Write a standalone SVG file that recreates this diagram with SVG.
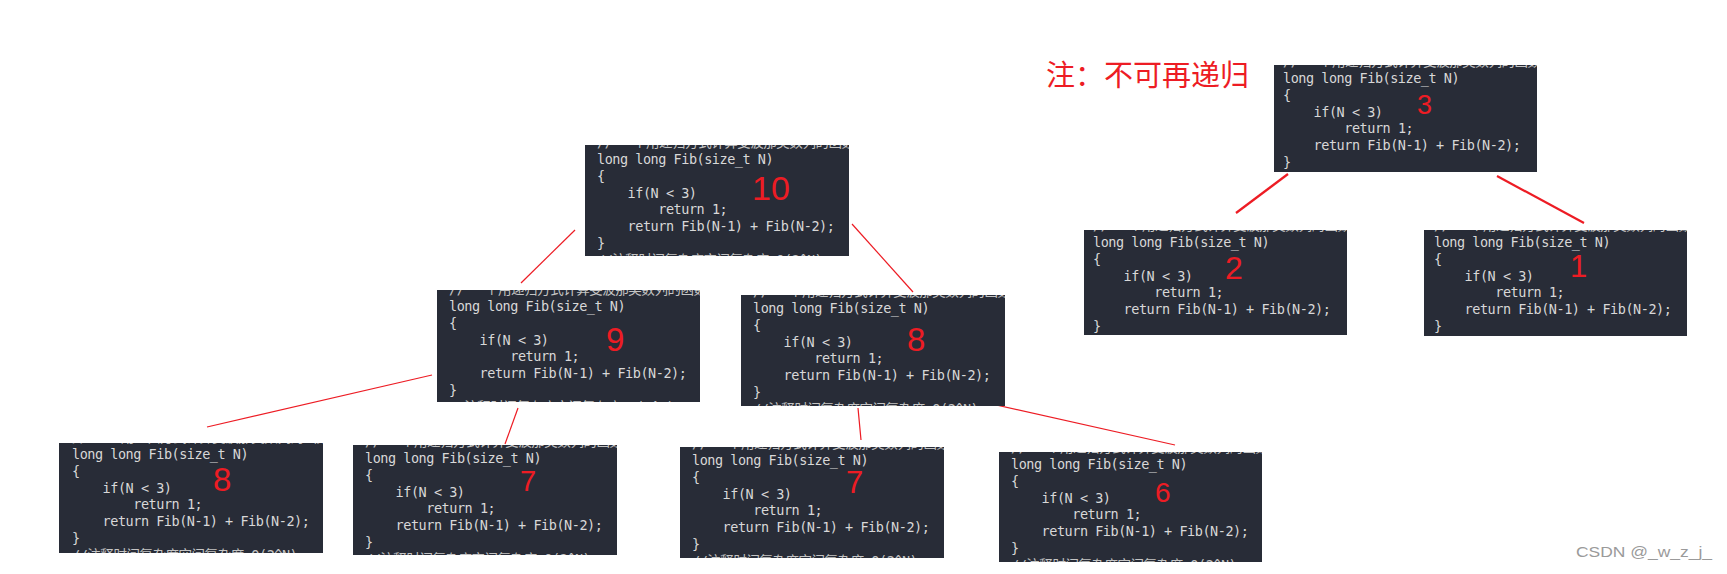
<svg xmlns="http://www.w3.org/2000/svg" width="1727" height="574" viewBox="0 0 1727 574">
<style>
.bg{fill:#282c37}
.code text{font-family:"DejaVu Sans Mono","Noto Sans CJK SC",monospace;font-size:13.5px;letter-spacing:-0.47px;fill:#d8d8d8}
.code text.frag{fill:#c4c4c4}
.num{font-family:"Liberation Sans",Arial,sans-serif;fill:#ed1c24}
.edge{stroke:#ed1c24;stroke-width:1.2;fill:none}
.edge2{stroke:#ed1c24;stroke-width:2.2;fill:none}
.note{font-family:"Noto Sans CJK SC",sans-serif;font-size:29px;fill:#ed1c24}
.wm{font-family:"Liberation Sans",Arial,sans-serif;font-size:15px;fill:#9a9a9a}
</style>
<defs>
<g id="codeTpl" class="code">
<text class="frag" x="0" y="-16.8">// 一个用递归方式计算斐波那契数列的函数，时间复杂度</text>
<text x="0" y="0">long long Fib(size_t N)</text>
<text x="0" y="16.8">{</text>
<text x="30.6" y="33.6">if(N &lt; 3)</text>
<text x="61.3" y="50.4">return 1;</text>
<text x="30.6" y="67.2">return Fib(N-1) + Fib(N-2);</text>
<text x="0" y="84">}</text>
<text class="frag" x="0" y="100.8">//注释时间复杂度空间复杂度 O(2^N)</text>
</g>
</defs>
<rect width="1727" height="574" fill="#ffffff"/>

<g id="connectors">
<line class="edge" x1="575" y1="230" x2="521" y2="283"/>
<line class="edge" x1="852" y1="224" x2="913" y2="292"/>
<line class="edge" x1="432" y1="375" x2="207" y2="427"/>
<line class="edge" x1="518" y1="408" x2="505" y2="444"/>
<line class="edge" x1="858" y1="408" x2="861" y2="440"/>
<line class="edge" x1="974" y1="400" x2="1175" y2="445"/>
<line class="edge2" x1="1288" y1="174" x2="1236" y2="213"/>
<line class="edge2" x1="1497" y1="176" x2="1584" y2="223"/>
</g>

<g id="node-10" transform="translate(585,145)">
<svg width="264" height="111" overflow="hidden"><rect class="bg" width="264" height="111"/><g transform="translate(12,19)"><use href="#codeTpl"/></g></svg>
<text class="num" x="167" y="55" font-size="34">10</text>
</g>

<g id="node-9" transform="translate(437,290)">
<svg width="263" height="112" overflow="hidden"><rect class="bg" width="263" height="112"/><g transform="translate(12,21)"><use href="#codeTpl"/></g></svg>
<text class="num" x="169" y="61" font-size="33">9</text>
</g>

<g id="node-8a" transform="translate(741,295)">
<svg width="264" height="111" overflow="hidden"><rect class="bg" width="264" height="111"/><g transform="translate(12,18)"><use href="#codeTpl"/></g></svg>
<text class="num" x="166" y="56" font-size="33">8</text>
</g>

<g id="node-8b" transform="translate(59,443)">
<svg width="264" height="110" overflow="hidden"><rect class="bg" width="264" height="110"/><g transform="translate(13,16)"><use href="#codeTpl"/></g></svg>
<text class="num" x="154" y="48" font-size="33">8</text>
</g>

<g id="node-7a" transform="translate(353,445)">
<svg width="264" height="110" overflow="hidden"><rect class="bg" width="264" height="110"/><g transform="translate(12,18)"><use href="#codeTpl"/></g></svg>
<text class="num" x="167" y="46" font-size="29">7</text>
</g>

<g id="node-7b" transform="translate(680,447)">
<svg width="264" height="111" overflow="hidden"><rect class="bg" width="264" height="111"/><g transform="translate(12,18)"><use href="#codeTpl"/></g></svg>
<text class="num" x="166" y="46" font-size="31">7</text>
</g>

<g id="node-6" transform="translate(999,452)">
<svg width="263" height="110" overflow="hidden"><rect class="bg" width="263" height="110"/><g transform="translate(12,17)"><use href="#codeTpl"/></g></svg>
<text class="num" x="156" y="50" font-size="28">6</text>
</g>

<g id="node-3" transform="translate(1274,65)">
<svg width="263" height="107" overflow="hidden"><rect class="bg" width="263" height="107"/><g transform="translate(9,18)"><use href="#codeTpl"/></g></svg>
<text class="num" x="143" y="49" font-size="27">3</text>
</g>

<g id="node-2" transform="translate(1084,230)">
<svg width="263" height="105" overflow="hidden"><rect class="bg" width="263" height="105"/><g transform="translate(9,17)"><use href="#codeTpl"/></g></svg>
<text class="num" x="141" y="49" font-size="32">2</text>
</g>

<g id="node-1" transform="translate(1424,230)">
<svg width="263" height="106" overflow="hidden"><rect class="bg" width="263" height="106"/><g transform="translate(10,17)"><use href="#codeTpl"/></g></svg>
<text class="num" x="146" y="47" font-size="31">1</text>
</g>

<g id="note">
<text class="note" x="1046" y="86">注：不可再递归</text>
</g>
<g id="watermark">
<text class="wm" x="1576" y="557" textLength="136" lengthAdjust="spacingAndGlyphs">CSDN @_w_z_j_</text>
</g>
</svg>
